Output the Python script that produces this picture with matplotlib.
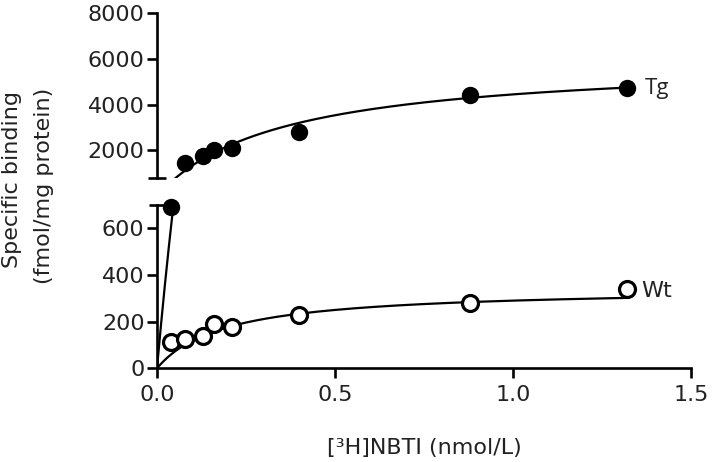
import numpy as np
import matplotlib
matplotlib.use("Agg")
import matplotlib.pyplot as plt

plt.rcParams['font.family'] = ['DejaVu Sans']

# Data
conc = [0.04, 0.08, 0.13, 0.16, 0.21, 0.40, 0.88, 1.32]
tg_binding = [690, 1420, 1730, 2000, 2090, 2790, 4410, 4720]
wt_binding = [114, 125, 138, 188, 175, 228, 281, 339]
wt_err = [0, 0, 0, 0, 14, 0, 0, 0]

# One-site binding fit parameters (Bmax, Kd)
tg_fit = (6000, 0.35)
wt_fit = (345, 0.19)

xticks = [0.0, 0.5, 1.0, 1.5]
top_yticks = [2000, 4000, 6000, 8000]
bot_yticks = [0, 200, 400, 600]

top_range = (800, 8000)
bot_range = (0, 700)

W, H = 714, 462
fig = plt.figure(figsize=(W / 100, H / 100), dpi=100)

x0, x1 = 157, 691
ax_bot = fig.add_axes([x0 / W, (H - 368.3) / H, (x1 - x0) / W, (368.3 - 204.9) / H])
ax_top = fig.add_axes([x0 / W, (H - 177.5) / H, (x1 - x0) / W, (177.5 - 13.3) / H])

xs = np.linspace(0, max(conc), 600)

def one_site(x, p):
    return p[0] * x / (p[1] + x)

lw_axis = 1.9
fs = 16
tc = '#222222'

for ax in (ax_top, ax_bot):
    ax.set_xlim(0, 1.5)
    for s in ('top', 'right'):
        ax.spines[s].set_visible(False)
    ax.spines['left'].set_linewidth(lw_axis)
    ax.spines['bottom'].set_linewidth(lw_axis)
    ax.tick_params(direction='out', length=7, width=lw_axis, labelsize=fs, pad=2,
                   labelcolor=tc)
    ax.patch.set_alpha(0)

conc_a = np.array(conc)
tg_a = np.array(tg_binding)
in_top = tg_a >= top_range[0]
in_bot = tg_a <= bot_range[1]

# Top panel
ax_top.set_ylim(*top_range)
ax_top.spines['bottom'].set_visible(False)
ax_top.set_xticks([])
ax_top.set_yticks(top_yticks)
ax_top.plot(xs, one_site(xs, tg_fit), color='black', lw=1.6, zorder=2)
ax_top.plot(conc_a[in_top], tg_a[in_top], 'o', color='black', ms=11.5, zorder=3,
            clip_on=False)
ax_top.plot([0], [0], marker='_', ms=13, mew=lw_axis, color='black',
            transform=ax_top.transAxes, clip_on=False)
ax_top.annotate('Tg', (conc[-1], tg_binding[-1]), xytext=(13, 0),
                textcoords='offset points', fontsize=fs, va='center', ha='left',
                color=tc, family=['Open Sans', 'DejaVu Sans'])

# Bottom panel
ax_bot.set_ylim(*bot_range)
ax_bot.set_yticks(bot_yticks)
ax_bot.set_xticks(xticks)
ax_bot.set_xticklabels([f"{v:.1f}" for v in xticks])
ax_bot.tick_params(axis='x', pad=5)
ax_bot.plot(xs, one_site(xs, tg_fit), color='black', lw=1.6, zorder=2)
ax_bot.plot(xs, one_site(xs, wt_fit), color='black', lw=1.6, zorder=2)
ax_bot.plot(conc_a[in_bot], tg_a[in_bot], 'o', color='black', ms=11.5, zorder=3,
            clip_on=False)
ax_bot.errorbar(conc, wt_binding, yerr=wt_err, fmt='o', color='black', mfc='white',
                mec='black', ms=11.5, mew=2.3, capsize=5, elinewidth=2, capthick=2,
                zorder=4, clip_on=False)
ax_bot.plot([0], [1], marker='_', ms=11, mew=lw_axis, color='black',
            transform=ax_bot.transAxes, clip_on=False)
ax_bot.annotate('Wt', (conc[-1], wt_binding[-1]), xytext=(10, -1.5),
                textcoords='offset points', fontsize=fs, va='center', ha='left',
                color=tc)

ax_bot.set_xlabel('[³H]NBTI (nmol/L)', fontsize=fs, labelpad=24, color=tc)

fig.text(12 / W, 1 - 180 / H, 'Specific binding', rotation=90, fontsize=fs,
         ha='center', va='center', color=tc)
fig.text(44 / W, 1 - 186 / H, '(fmol/mg protein)', rotation=90, fontsize=fs,
         ha='center', va='center', color=tc)

fig.savefig('out.png', dpi=100)
